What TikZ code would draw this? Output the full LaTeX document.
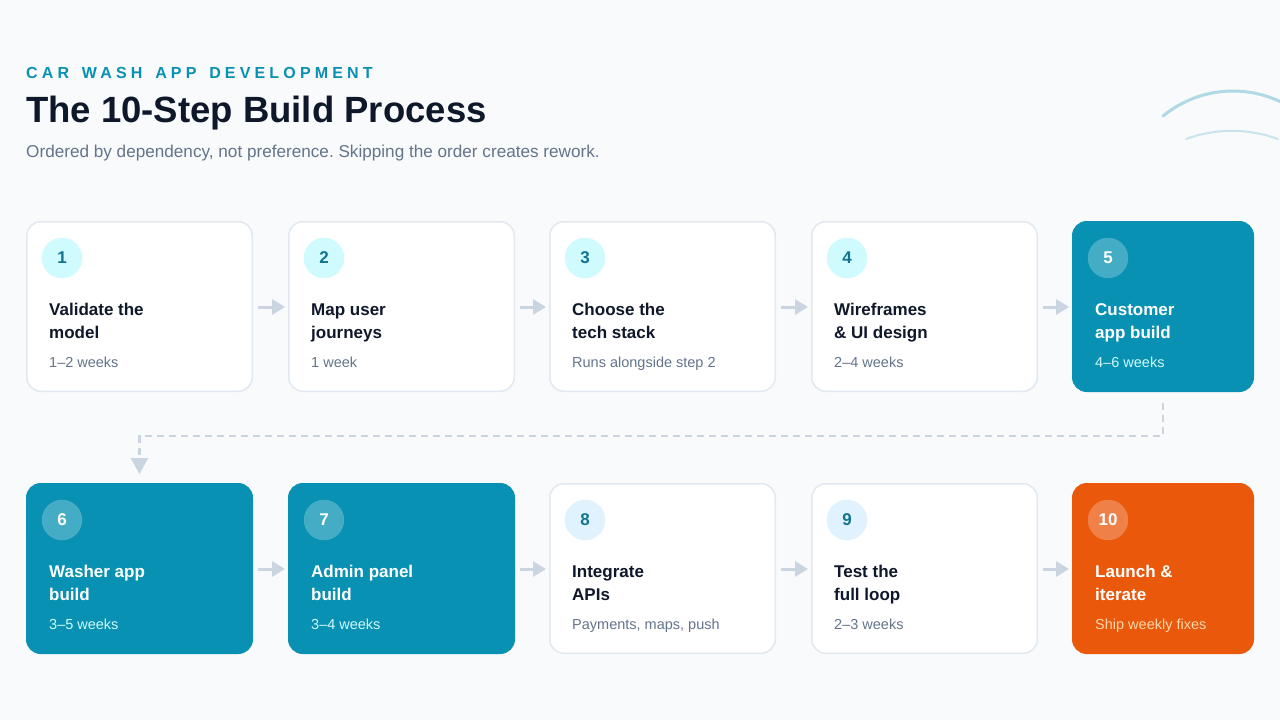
\documentclass[tikz,border=0pt]{standalone}
\usepackage{fontspec}
\setmainfont{Liberation Sans}
\usetikzlibrary{arrows.meta}
\frenchspacing
\definecolor{bg}{HTML}{F8FAFC}
\definecolor{teal}{HTML}{0891B2}
\definecolor{tealdk}{HTML}{0E7490}
\definecolor{orng}{HTML}{EA580C}
\definecolor{ink}{HTML}{0F172A}
\definecolor{slate}{HTML}{64748B}
\definecolor{border}{HTML}{E2E8F0}
\definecolor{arrowc}{HTML}{CBD5E1}
\definecolor{cyanlt}{HTML}{CFFAFE}
\definecolor{skylt}{HTML}{E0F2FE}
\definecolor{peach}{HTML}{FED7AA}
\tikzset{
  cardbase/.style={rectangle, rounded corners=14pt, minimum height=169.5pt, inner sep=0pt, line width=1.5pt},
  numcirc/.style={circle, minimum size=40.5pt, inner sep=0pt, font=\fontsize{17}{20}\selectfont\bfseries},
  ctitle/.style={anchor=base west, inner sep=0pt, font=\fontsize{17}{20}\selectfont\bfseries},
  csub/.style={anchor=base west, inner sep=0pt, font=\fontsize{14.5}{17}\selectfont},
  light card/.style={fill=white, draw=border},
  light circ/.style={fill=cyanlt, text=tealdk},
  light title/.style={text=ink},
  light sub/.style={text=slate},
  lightb card/.style={fill=white, draw=border},
  lightb circ/.style={fill=skylt, text=tealdk},
  lightb title/.style={text=ink},
  lightb sub/.style={text=slate},
  teal card/.style={fill=teal, draw=teal},
  teal circ/.style={fill=white, fill opacity=0.25, text opacity=1, text=white},
  teal title/.style={text=white},
  teal sub/.style={text=cyanlt},
  orange card/.style={fill=orng, draw=orng},
  orange circ/.style={fill=white, fill opacity=0.25, text opacity=1, text=white},
  orange title/.style={text=white},
  orange sub/.style={text=peach},
  flowarrow/.style={draw=arrowc, line width=3pt, -{Triangle[length=13pt,width=15pt]}},
  loopline/.style={draw=arrowc, line width=2.5pt, dash pattern=on 7pt off 5pt, -{Triangle[length=16pt,width=17pt]}},
  deco/.style={draw=teal, line cap=round},
}
\newcommand\stepcard[9]{%
  \node[cardbase, #5 card, minimum width=#4, anchor=north west] (c#1) at (#2,#3) {};
  \node[numcirc, #5 circ] (n#1) at ([xshift=36pt,yshift=-37pt]c#1.north west) {#6};
  \node[ctitle, #5 title] (ta#1) at ([xshift=23pt,yshift=-94pt]c#1.north west) {#7};
  \node[ctitle, #5 title] (tb#1) at ([xshift=23pt,yshift=-117pt]c#1.north west) {#8};
  \node[csub, #5 sub] (s#1) at ([xshift=23pt,yshift=-146pt]c#1.north west) {#9};
}
\newcommand\wsp{\kern4.2pt\ }
\begin{document}
\begin{tikzpicture}[x=1pt,y=-1pt]
\fill[bg] (0,0) rectangle (1280,720);
\useasboundingbox (0,0) rectangle (1280,720);
% decorative arcs
\draw[deco, line width=3pt, draw opacity=0.3] (1163,116) arc[start angle=-129.3, end angle=-40, radius=110.5];
\draw[deco, line width=2pt, draw opacity=0.2] (1186,139) arc[start angle=-110.2, end angle=-69.8, radius=133];
% header
\node[anchor=base west, inner sep=0pt, text=teal, font=\fontsize{16}{19}\selectfont\bfseries\addfontfeature{LetterSpace=26}] (eyebrow) at (26,78.3) {CAR\wsp WASH\wsp APP\wsp DEVELOPMENT};
\node[anchor=base west, inner sep=0pt, text=ink, font=\fontsize{36.5}{42}\selectfont\bfseries] (title) at (26,122.7) {The 10-Step Build Process};
\node[anchor=base west, inner sep=0pt, text=slate, font=\fontsize{17.15}{20}\selectfont] (subtitle) at (26,157.3) {Ordered by dependency, not preference. Skipping the order creates rework.};
% row 1
\stepcard{1}{26}{221}{225.5pt}{light}{1}{Validate the}{model}{1–2 weeks}
\stepcard{2}{288}{221}{225.5pt}{light}{2}{Map user}{journeys}{1 week}
\stepcard{3}{549}{221}{225.5pt}{light}{3}{Choose the}{tech stack}{Runs alongside step 2}
\stepcard{4}{811}{221}{225.5pt}{light}{4}{Wireframes}{\& UI design}{2–4 weeks}
\stepcard{5}{1072}{221}{180.5pt}{teal}{5}{Customer}{app build}{4–6 weeks}
% row 2
\stepcard{6}{26}{483}{225.5pt}{teal}{6}{Washer app}{build}{3–5 weeks}
\stepcard{7}{288}{483}{225.5pt}{teal}{7}{Admin panel}{build}{3–4 weeks}
\stepcard{8}{549}{483}{225.5pt}{lightb}{8}{Integrate}{APIs}{Payments, maps, push}
\stepcard{9}{811}{483}{225.5pt}{lightb}{9}{Test the}{full loop}{2–3 weeks}
\stepcard{10}{1072}{483}{180.5pt}{orange}{10}{Launch \&}{iterate}{Ship weekly fixes}
% arrows
\foreach \a/\b in {1/2,2/3,3/4,4/5,6/7,7/8,8/9,9/10}{
  \draw[flowarrow] ([xshift=5pt,yshift=-0.5pt]c\a.east) -- ([xshift=-3pt,yshift=-0.5pt]c\b.west);
}
\draw[loopline] ([yshift=-11pt]c5.south) -- ++(0,33) -| ([yshift=9pt]c6.north);
\end{tikzpicture}
\end{document}
